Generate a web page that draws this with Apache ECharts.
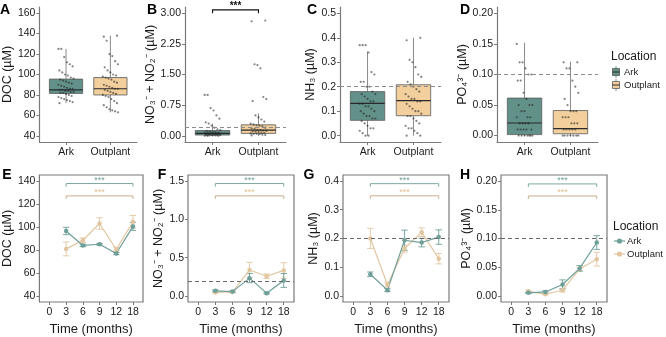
<!DOCTYPE html>
<html><head><meta charset="utf-8">
<script src="https://cdn.jsdelivr.net/npm/echarts@6/dist/echarts.min.js"></script>
<style>html,body{margin:0;padding:0;background:#fff}#c{width:666px;height:337px}</style>
</head><body><div id="c"></div>
<script>
// ---------------- DATA ----------------
const boxCategories = ['Ark', 'Outplant'];
const timeLabels = ['0', '3', '6', '9', '12', '18'];
const groupNames = ['Ark', 'Outplant'];

// Panel A: DOC (µM) – raw points
const docArkPts = [125,125,117,112,110,108,104,102,100,99,97,96,95,94,93,92,91,90,89,88,87,86,86,85,85,84,84,83,83,82,82,81,80,79,78,77,76,75,74,73,72];
const docOutPts = [138,137,133,120,118,113,110,107,104,102,100,99,98,97,96,95,93,92,90,89,88,87,86,86,85,84,83,82,81,80,79,78,76,74,72,70,68,66,65,64,63];
// box stats [lowerWhisker, Q1, median, Q3, upperWhisker]
const docArkBox = [72, 81.5, 85, 95.5, 125];
const docOutBox = [63, 80, 86, 97, 138];

// Panel B: NO3- + NO2-
const noxArkPts = [1.0,1.0,0.68,0.62,0.5,0.42,0.33,0.3,0.25,0.2,0.16,0.14,0.12,0.11,0.1,0.09,0.08,0.08,0.07,0.06,0.06,0.05,0.05,0.04,0.04,0.03,0.03,0.02,0.02,0.02,0.01,0.01,0.01,0.0,0.0,0.0];
const noxOutPts = [2.82,2.8,1.75,1.73,1.65,0.95,0.9,0.85,0.5,0.45,0.4,0.35,0.3,0.28,0.26,0.25,0.23,0.2,0.18,0.17,0.15,0.14,0.13,0.12,0.11,0.1,0.09,0.08,0.07,0.06,0.05,0.05,0.04,0.03,0.02,0.01];
const noxArkBox = [0, 0.02, 0.06, 0.13, 0.3];
const noxOutBox = [0, 0.06, 0.14, 0.27, 0.55];

// Panel C: NH3
const nh3ArkPts = [0.37,0.37,0.37,0.34,0.26,0.25,0.22,0.22,0.2,0.2,0.18,0.17,0.17,0.16,0.15,0.14,0.14,0.13,0.13,0.12,0.12,0.11,0.1,0.1,0.09,0.08,0.08,0.07,0.07,0.06,0.05,0.04,0.03,0.03,0.02,0.01,0.0,0.0];
const nh3OutPts = [0.4,0.39,0.31,0.3,0.28,0.25,0.24,0.22,0.21,0.2,0.19,0.18,0.17,0.16,0.15,0.15,0.14,0.14,0.13,0.12,0.11,0.1,0.1,0.09,0.08,0.08,0.07,0.06,0.05,0.04,0.03,0.03,0.02,0.01,0.0,0.0];
const nh3ArkBox = [0, 0.0625, 0.132, 0.18, 0.344];
const nh3OutBox = [0, 0.0815, 0.143, 0.208, 0.40];

// Panel D: PO4 3-
const po4ArkPts = [0.15,0.12,0.12,0.11,0.1,0.1,0.09,0.09,0.07,0.06,0.05,0.05,0.05,0.04,0.04,0.03,0.03,0.03,0.02,0.02,0.02,0.02,0.01,0.01,0.01,0.01,0.01,0.0,0.0,0.0,0.0,0.0,0.0,0.0];
const po4OutPts = [0.12,0.12,0.11,0.11,0.09,0.08,0.07,0.06,0.05,0.04,0.04,0.04,0.03,0.03,0.03,0.02,0.02,0.02,0.01,0.01,0.01,0.01,0.01,0.0,0.0,0.0,0.0,0.0,0.0,0.0];
const po4ArkBox = [0, 0.0016, 0.0207, 0.0614, 0.152];
const po4OutBox = [0, 0.003, 0.0114, 0.041, 0.121];

// Reference (dashed) thresholds
const thresholdsTop = [null, 0.2, 0.2, 0.1];
const thresholdsBottom = [null, 0.2, 0.2, 0.1];

// Time series (mean, SE) at 0,3,6,9,12,18 months
const docArkMean = [null, 96.5, 84, 85, 77, 100.5];
const docArkSE   = [null, 3.2, 1, 0.8, 1, 3.5];
const docOutMean = [null, 81, 88.5, 103, 80.5, 104.5];
const docOutSE   = [null, 6, 2, 5, 2, 5.5];

const noxArkMean = [null, 0.07, 0.06, 0.235, 0.04, 0.205];
const noxArkSE   = [null, 0.012, 0.01, 0.06, 0.01, 0.09];
const noxOutMean = [null, 0.05, 0.055, 0.34, 0.26, 0.335];
const noxOutSE   = [null, 0.01, 0.01, 0.1, 0.03, 0.1];

const nh3ArkMean = [null, 0.076, 0.021, 0.194, 0.186, 0.205];
const nh3ArkSE   = [null, 0.008, 0.005, 0.035, 0.015, 0.025];
const nh3OutMean = [null, 0.2, 0.04, 0.165, 0.222, 0.13];
const nh3OutSE   = [null, 0.035, 0.008, 0.012, 0.015, 0.018];

const po4ArkMean = [null, 0.0055, 0.007, 0.02, 0.048, 0.093];
const po4ArkSE   = [null, 0.001, 0.002, 0.008, 0.005, 0.012];
const po4OutMean = [null, 0.008, 0.003, 0.01, 0.047, 0.064];
const po4OutSE   = [null, 0.002, 0.001, 0.003, 0.003, 0.012];

// significance brackets: [fromIndex, toIndex, yValue] (Ark, Outplant)
const sigTopB = [0, 1, 3.08];
const sigE = [[1, 5, 137.6], [1, 5, 126.9]];
const sigF = [[1, 5, 1.464], [1, 5, 1.304]];
const sigG = [[1, 5, 0.39], [1, 5, 0.348]];
const sigH = [[1, 5, 0.195], [1, 5, 0.174]];

// ---------------- STYLE ----------------
const FONT = 'Liberation Sans, Arial, sans-serif';
const boxFill = ['#62918a', '#f2cf9c'];
const lineCol = ['#6e9f99', '#e2c6a0'];
const sigCol = ['#7ea8a3', '#c9ae8c'];
const sigTextCol = ['#6f9d97', '#e4bf8f'];
const axisCol = '#7a7a7a';
const textCol = '#1a1a1a';

const topGrids = [
  {left: 36, top: 7, width: 101, height: 135},
  {left: 185, top: 7, width: 101, height: 135},
  {left: 340, top: 7, width: 101, height: 135},
  {left: 497, top: 7, width: 101, height: 135}
];
const botGrids = [
  {left: 37, top: 175, width: 106, height: 134},
  {left: 188, top: 175, width: 106, height: 134},
  {left: 343, top: 175, width: 106, height: 134},
  {left: 501, top: 175, width: 106, height: 134}
];
const topY = [
  {min: 34, max: 166, ticks: [40,60,80,100,120,140,160], dec: 0, name: 'DOC (µM)', gap: 20},
  {min: -0.15, max: 3.15, ticks: [0,0.75,1.5,2.25,3], dec: 2, name: 'NO₃⁻ + NO₂⁻ (µM)', gap: 23},
  {min: -0.026, max: 0.526, ticks: [0,0.1,0.2,0.3,0.4,0.5], dec: 1, name: 'NH₃ (µM)', gap: 19},
  {min: -0.0105, max: 0.2105, ticks: [0,0.05,0.1,0.15,0.2], dec: 2, name: 'PO₄³⁻ (µM)', gap: 23}
];
const botY = [
  {min: 35, max: 145, ticks: [40,60,80,100,120,140], dec: 0, name: 'DOC (µM)', gap: 20},
  {min: -0.075, max: 1.575, ticks: [0,0.5,1,1.5], dec: 1, name: 'NO₃⁻ + NO₂⁻ (µM)', gap: 19},
  {min: -0.02, max: 0.42, ticks: [0,0.1,0.2,0.3,0.4], dec: 1, name: 'NH₃ (µM)', gap: 22},
  {min: -0.0105, max: 0.2105, ticks: [0,0.05,0.1,0.15,0.2], dec: 2, name: 'PO₄³⁻ (µM)', gap: 26}
];

const topPts = [[docArkPts, docOutPts],[noxArkPts, noxOutPts],[nh3ArkPts, nh3OutPts],[po4ArkPts, po4OutPts]];
const topBox = [[docArkBox, docOutBox],[noxArkBox, noxOutBox],[nh3ArkBox, nh3OutBox],[po4ArkBox, po4OutBox]];
const botMean = [[docArkMean, docOutMean],[noxArkMean, noxOutMean],[nh3ArkMean, nh3OutMean],[po4ArkMean, po4OutMean]];
const botSE = [[docArkSE, docOutSE],[noxArkSE, noxOutSE],[nh3ArkSE, nh3OutSE],[po4ArkSE, po4OutSE]];
const botSig = [sigE, sigF, sigG, sigH];

// deterministic horizontal jitter (position only)
function jitter(i) { return (((i * 37) % 17) / 16 - 0.5) * 0.34; }

const grid = [], xAxis = [], yAxis = [], series = [];

function yAxisDef(cfg, gridIndex, showLine) {
  return {
    type: 'value', gridIndex, min: cfg.min, max: cfg.max,
    name: cfg.name, nameLocation: 'middle', nameGap: cfg.gap,
    nameTextStyle: {fontFamily: FONT, fontSize: 12.5, color: textCol},
    splitLine: {show: false},
    axisLine: {show: showLine, onZero: false, lineStyle: {color: axisCol, width: 1.2}},
    axisTick: {show: true, length: 3, lineStyle: {color: axisCol}, customValues: cfg.ticks},
    axisLabel: {fontFamily: FONT, fontSize: 10.5, color: textCol, margin: 4,
      customValues: cfg.ticks, formatter: v => Number(v).toFixed(cfg.dec)}
  };
}

// top row
topGrids.forEach((g, k) => {
  grid.push(Object.assign({containLabel: false}, g));
  xAxis.push({
    type: 'value', gridIndex: k, min: -0.6, max: 1.6,
    splitLine: {show: false},
    axisLine: {show: true, onZero: false, lineStyle: {color: axisCol, width: 1.2}},
    axisTick: {show: true, length: 3, lineStyle: {color: axisCol}, customValues: [0, 1]},
    axisLabel: {fontFamily: FONT, fontSize: 10.5, color: textCol, margin: 5,
      customValues: [0, 1], formatter: v => boxCategories[Math.round(v)]}
  });
  yAxis.push(yAxisDef(topY[k], k, true));
  // boxes
  const boxData = topBox[k].map((b, gi) => [gi].concat(b));
  series.push({
    type: 'custom', xAxisIndex: k, yAxisIndex: k, data: boxData, z: 2,
    dimensions: ['x', 'lo', 'q1', 'med', 'q3', 'hi'],
    encode: {x: 0, y: [1, 2, 3, 4, 5]},
    renderItem: (params, api) => {
      const x = api.value(0);
      const lo = api.coord([x, api.value(1)]), q1 = api.coord([x, api.value(2)]),
            md = api.coord([x, api.value(3)]), q3 = api.coord([x, api.value(4)]),
            hi = api.coord([x, api.value(5)]);
      const hw = api.size([0.75, 0])[0] / 2;
      const cx = lo[0];
      return {type: 'group', children: [
        {type: 'line', shape: {x1: cx, y1: hi[1], x2: cx, y2: q3[1]}, style: {stroke: '#8a8a8a', lineWidth: 1}},
        {type: 'line', shape: {x1: cx, y1: lo[1], x2: cx, y2: q1[1]}, style: {stroke: '#8a8a8a', lineWidth: 1}},
        {type: 'rect', shape: {x: cx - hw, y: q3[1], width: 2 * hw, height: Math.max(q1[1] - q3[1], 0.5)},
          style: {fill: boxFill[x], stroke: '#5a5a5a', lineWidth: 0.8}},
        {type: 'line', shape: {x1: cx - hw, y1: md[1], x2: cx + hw, y2: md[1]}, style: {stroke: '#2a2a2a', lineWidth: 1.1}}
      ]};
    }
  });
  // points
  topPts[k].forEach((arr, gi) => {
    series.push({
      type: 'scatter', xAxisIndex: k, yAxisIndex: k, z: 3, symbolSize: 2.2, silent: true,
      itemStyle: {color: '#1e1e1e', opacity: 0.55},
      data: arr.map((v, i) => [gi + jitter(i + gi * 5), v])
    });
  });
  // dashed reference line
  if (thresholdsTop[k] !== null) {
    series.push({
      type: 'line', xAxisIndex: k, yAxisIndex: k, data: [], silent: true,
      markLine: {symbol: 'none', silent: true, label: {show: false},
        lineStyle: {color: '#8c8c8c', type: [4, 3], width: 1},
        data: [{yAxis: thresholdsTop[k]}]}
    });
  }
});

// significance bracket for panel B
series.push({
  type: 'custom', xAxisIndex: 1, yAxisIndex: 1, z: 4, data: [sigTopB], clip: false,
  renderItem: (params, api) => {
    const a = api.coord([api.value(0), api.value(2)]);
    const b = api.coord([api.value(1), api.value(2)]);
    return {type: 'group', children: [
      {type: 'polyline', shape: {points: [[a[0], a[1] + 3.5], [a[0], a[1]], [b[0], b[1]], [b[0], b[1] + 3.5]]},
        style: {stroke: '#111', lineWidth: 1.1, fill: null}},
      {type: 'text', style: {text: '***', x: (a[0] + b[0]) / 2, y: a[1] + 1, align: 'center', verticalAlign: 'bottom',
        font: 'bold 10px ' + FONT, fill: '#111'}}
    ]};
  }
});

// bottom row
botGrids.forEach((g, j) => {
  const k = j + 4;
  grid.push(Object.assign({containLabel: false, show: true, borderColor: axisCol, borderWidth: 1.2}, g));
  xAxis.push({
    type: 'value', gridIndex: k, min: -0.6, max: 5.6,
    name: 'Time (months)', nameLocation: 'middle', nameGap: 21,
    nameTextStyle: {fontFamily: FONT, fontSize: 13, color: textCol},
    splitLine: {show: false},
    axisLine: {show: false, onZero: false},
    axisTick: {show: true, length: 3, lineStyle: {color: axisCol}, customValues: [0,1,2,3,4,5]},
    axisLabel: {fontFamily: FONT, fontSize: 10.5, color: textCol, margin: 5,
      customValues: [0,1,2,3,4,5], formatter: v => timeLabels[Math.round(v)]}
  });
  yAxis.push(yAxisDef(botY[j], k, false));
  // dashed reference line
  if (thresholdsBottom[j] !== null) {
    series.push({
      type: 'line', xAxisIndex: k, yAxisIndex: k, data: [], silent: true,
      markLine: {symbol: 'none', silent: true, label: {show: false},
        lineStyle: {color: '#6a6a6a', type: [4, 3], width: 1},
        data: [{yAxis: thresholdsBottom[j]}]}
    });
  }
  // error bars + lines (Outplant then Ark on top)
  [1, 0].forEach(gi => {
    const m = botMean[j][gi], s = botSE[j][gi];
    const eb = [];
    m.forEach((v, i) => { if (v !== null) eb.push([i, v - s[i], v + s[i]]); });
    series.push({
      type: 'custom', xAxisIndex: k, yAxisIndex: k, z: 2, data: eb, silent: true,
      dimensions: ['x', 'lo', 'hi'], encode: {x: 0, y: [1, 2]},
      renderItem: (params, api) => {
        const lo = api.coord([api.value(0), api.value(1)]);
        const hi = api.coord([api.value(0), api.value(2)]);
        const c = lineCol[gi], hw = 3.2;
        return {type: 'group', children: [
          {type: 'line', shape: {x1: lo[0], y1: lo[1], x2: hi[0], y2: hi[1]}, style: {stroke: c, lineWidth: 0.9}},
          {type: 'line', shape: {x1: lo[0] - hw, y1: lo[1], x2: lo[0] + hw, y2: lo[1]}, style: {stroke: c, lineWidth: 0.9}},
          {type: 'line', shape: {x1: hi[0] - hw, y1: hi[1], x2: hi[0] + hw, y2: hi[1]}, style: {stroke: c, lineWidth: 0.9}}
        ]};
      }
    });
    series.push({
      type: 'line', xAxisIndex: k, yAxisIndex: k, z: 3, name: groupNames[gi],
      symbol: 'circle', symbolSize: 4.5, showSymbol: true, silent: true,
      lineStyle: {color: lineCol[gi], width: 1.2},
      itemStyle: {color: lineCol[gi]},
      data: m.map((v, i) => v === null ? null : [i, v]).filter(d => d !== null)
    });
  });
  // brackets
  series.push({
    type: 'custom', xAxisIndex: k, yAxisIndex: k, z: 4, clip: false, silent: true,
    dimensions: ['x0', 'x1', 'y', 'g'], encode: {x: [0, 1], y: 2},
    data: botSig[j].map((b, gi) => b.concat([gi])),
    renderItem: (params, api) => {
      const gi = api.value(3);
      const a = api.coord([api.value(0), api.value(2)]);
      const b = api.coord([api.value(1), api.value(2)]);
      return {type: 'group', children: [
        {type: 'polyline', shape: {points: [[a[0], a[1] + 3], [a[0], a[1]], [b[0], b[1]], [b[0], b[1] + 3]]},
          style: {stroke: sigCol[gi], lineWidth: 1, fill: null}},
        {type: 'text', style: {text: '***', x: (a[0] + b[0]) / 2, y: a[1] + 1, align: 'center', verticalAlign: 'bottom',
          font: '9px ' + FONT, fill: sigTextCol[gi]}}
      ]};
    }
  });
});

// panel letters + legends (graphic)
const letters = [['A', 5, 10], ['B', 152, 10], ['C', 312, 10], ['D', 465, 10],
                 ['E', 7, 175], ['F', 162, 175], ['G', 309, 175], ['H', 465, 175]];
const graphic = letters.map(l => ({type: 'text', x: l[1], y: l[2], style: {text: l[0], font: 'bold 14px ' + FONT,
  fill: '#000', align: 'center', verticalAlign: 'middle'}}));

// top legend (boxplot keys)
graphic.push({type: 'text', x: 611, y: 57, style: {text: 'Location', font: '12px ' + FONT, fill: textCol, verticalAlign: 'middle'}});
groupNames.forEach((nm, gi) => {
  const cy = 72 + gi * 13;
  graphic.push({type: 'line', shape: {x1: 616, y1: cy - 6, x2: 616, y2: cy + 6}, style: {stroke: '#8a8a8a', lineWidth: 1}});
  graphic.push({type: 'rect', shape: {x: 612.5, y: cy - 3.5, width: 7, height: 7}, style: {fill: boxFill[gi], stroke: '#5a5a5a', lineWidth: 0.8}});
  graphic.push({type: 'line', shape: {x1: 612.5, y1: cy, x2: 619.5, y2: cy}, style: {stroke: '#2a2a2a', lineWidth: 1}});
  graphic.push({type: 'text', x: 624, y: cy, style: {text: nm, font: '9.5px ' + FONT, fill: textCol, verticalAlign: 'middle'}});
});
// bottom legend (point + line keys)
graphic.push({type: 'text', x: 613, y: 227, style: {text: 'Location', font: '12px ' + FONT, fill: textCol, verticalAlign: 'middle'}});
groupNames.forEach((nm, gi) => {
  const cy = 241 + gi * 13;
  graphic.push({type: 'line', shape: {x1: 614, y1: cy, x2: 625, y2: cy}, style: {stroke: lineCol[gi], lineWidth: 1.2}});
  graphic.push({type: 'circle', shape: {cx: 619.5, cy: cy, r: 2.6}, style: {fill: lineCol[gi]}});
  graphic.push({type: 'text', x: 627, y: cy, style: {text: nm, font: '9.5px ' + FONT, fill: textCol, verticalAlign: 'middle'}});
});

const chart = echarts.init(document.getElementById('c'), null, {renderer: 'canvas'});
chart.setOption({
  animation: false,
  backgroundColor: '#fff',
  textStyle: {fontFamily: FONT},
  grid, xAxis, yAxis, series, graphic
});
</script></body></html>
